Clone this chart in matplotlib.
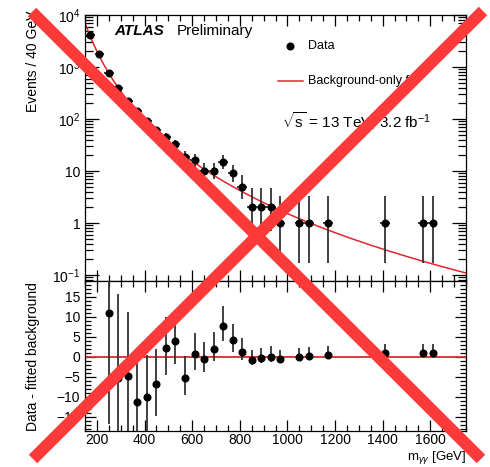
import numpy as np
import matplotlib
matplotlib.use('Agg')
import matplotlib.pyplot as plt
from matplotlib.lines import Line2D
from matplotlib.ticker import MultipleLocator, LogLocator, FixedLocator, FixedFormatter, NullFormatter

plt.rcParams['font.family'] = ['Liberation Sans', 'DejaVu Sans']
plt.rcParams['mathtext.fontset'] = 'custom'
plt.rcParams['mathtext.rm'] = 'Liberation Sans'
plt.rcParams['mathtext.it'] = 'Liberation Sans:italic'
plt.rcParams['mathtext.bf'] = 'Liberation Sans:bold'

# diphoton invariant mass, bin centres (40 GeV bins) and observed events
mass = np.array([170, 210, 250, 290, 330, 370, 410, 450, 490, 530, 570, 610, 650,
                 690, 730, 770, 810, 850, 890, 930, 970, 1050, 1090, 1170, 1410,
                 1570, 1610])
events = np.array([4100, 1780, 770, 395, 225, 145, 92, 62, 45, 33, 19, 16, 10,
                   10, 15, 9, 5, 2, 2, 2, 1, 1, 1, 1, 1, 1, 1])

# data - fitted background (first two bins are off scale)
res_mass = mass[2:]
residual = np.array([11.1, -5.2, -4.8, -11.3, -10.1, -6.8, 2.3, 3.9, -5.3, 0.8,
                     -0.6, 2.0, 7.8, 4.2, 1.3, -0.8, -0.3, 0.1, -0.5, 0.0, 0.3,
                     0.5, 0.9, 1.0, 1.0])

# background-only fit: f = A (1 - x^1/3)^b x^a, x = m / sqrt(s)
fit_A, fit_b, fit_a = 1.004e-4, 1.86, -4.155
sqrt_s = 13000.0


def bkg(m):
    x = m / sqrt_s
    return fit_A * (1 - x ** (1 / 3)) ** fit_b * x ** fit_a


def poisson_err(n):
    # Gehrels approximation of the 68% Poisson interval
    n = np.asarray(n, dtype=float)
    up = 1 + np.sqrt(n + 0.75)
    lo = n - n * (1 - 1 / (9 * n) - 1 / (3 * np.sqrt(n))) ** 3
    return lo, up


W, H = 490, 467
fig = plt.figure(figsize=(W / 100, H / 100), dpi=100)

def px(x, y):
    return x / W, 1 - y / H

left, right = 85 / W, 466 / W
ax1 = fig.add_axes([left, 1 - 281 / H, right - left, (281 - 15) / H])
ax2 = fig.add_axes([left, 1 - 431 / H, right - left, (431 - 281) / H])

red = '#e3262b'
lo, up = poisson_err(events)

# upper panel
mgrid = np.linspace(150, 1750, 400)
ax1.plot(mgrid, bkg(mgrid), color=red, lw=1.1, zorder=2)
ax1.errorbar(mass, events, yerr=[lo, up], xerr=20, fmt='o', color='black',
             ecolor='#333333', ms=4.8, elinewidth=1.3, capsize=0, zorder=3)
ax1.set_yscale('log')
ax1.set_xlim(150, 1750)
ax1.set_ylim(0.077, 1e4)

# lower panel
rlo, rup = poisson_err(events[2:])
ax2.axhline(0, color=red, lw=1.3, zorder=2)
ax2.errorbar(res_mass, residual, yerr=[rlo, rup], fmt='o', color='black',
             ecolor='#333333', ms=4.8, elinewidth=1.3, capsize=0, zorder=3)
ax2.set_xlim(150, 1750)
ax2.set_ylim(-18.5, 19)

for ax in (ax1, ax2):
    ax.xaxis.set_major_locator(MultipleLocator(200))
    ax.xaxis.set_minor_locator(MultipleLocator(50))
    ax.tick_params(which='both', direction='in', top=True, right=True,
                   labelsize=10, width=0.9)
    ax.tick_params(which='major', length=8)
    ax.tick_params(which='minor', length=4.5)
    for s in ax.spines.values():
        s.set_linewidth(0.9)

ax1.tick_params(axis='x', labelbottom=False)
ax1.yaxis.set_major_locator(FixedLocator([0.1, 1, 10, 100, 1000, 10000]))
ax1.yaxis.set_major_formatter(FixedFormatter(
    ['$10^{-1}$', '1', '10', '$10^{2}$', '$10^{3}$', '$10^{4}$']))
ax1.yaxis.set_minor_locator(LogLocator(base=10, subs=np.arange(2, 10)))
ax1.yaxis.set_minor_formatter(NullFormatter())
ax1.tick_params(axis='y', which='major', length=10)
ax1.tick_params(axis='y', which='minor', length=6)

ax2.yaxis.set_major_locator(FixedLocator([-15, -10, -5, 0, 5, 10, 15]))
ax2.yaxis.set_minor_locator(MultipleLocator(1))
ax2.tick_params(axis='x', pad=1.5)

# labels
fig.text(*px(33, 11), 'Events / 40 GeV', rotation=90, ha='center', va='top',
         fontsize=10)
fig.text(*px(33, 282), 'Data - fitted background', rotation=90, ha='center',
         va='top', fontsize=10)
fig.text(*px(466, 460), r'm$_{\gamma\gamma}$ [GeV]', ha='right', va='baseline',
         fontsize=9.5)

fig.text(*px(114, 31), 'ATLAS', fontsize=11, fontweight='bold',
         fontstyle='italic', va='center')
fig.text(*px(177, 31), 'Preliminary', fontsize=11, va='center')

# legend
fig.add_artist(Line2D([290 / W], [1 - 46 / H], marker='o', color='black',
                      ms=4.8, transform=fig.transFigure))
fig.text(*px(308, 46), 'Data', fontsize=9, va='center')
fig.add_artist(Line2D([278 / W, 303 / W], [1 - 81 / H, 1 - 81 / H], color=red,
                      lw=1.1, transform=fig.transFigure))
fig.text(*px(308, 81), 'Background-only fit', fontsize=9, va='center')
fig.text(*px(282, 121), r'$\sqrt{\mathrm{s}}$ = 13 TeV, 3.2 fb$^{-1}$',
         fontsize=11, va='center')

# cross over the whole figure
xred = '#fc3a3a'
for (x0, y0), (x1, y1) in [((32, 12), (481, 459)), ((33, 459), (483, 11))]:
    fig.add_artist(Line2D([x0 / W, x1 / W], [1 - y0 / H, 1 - y1 / H],
                          color=xred, lw=8.6, solid_capstyle='butt',
                          transform=fig.transFigure, zorder=10))

fig.savefig('out.png', dpi=100)
